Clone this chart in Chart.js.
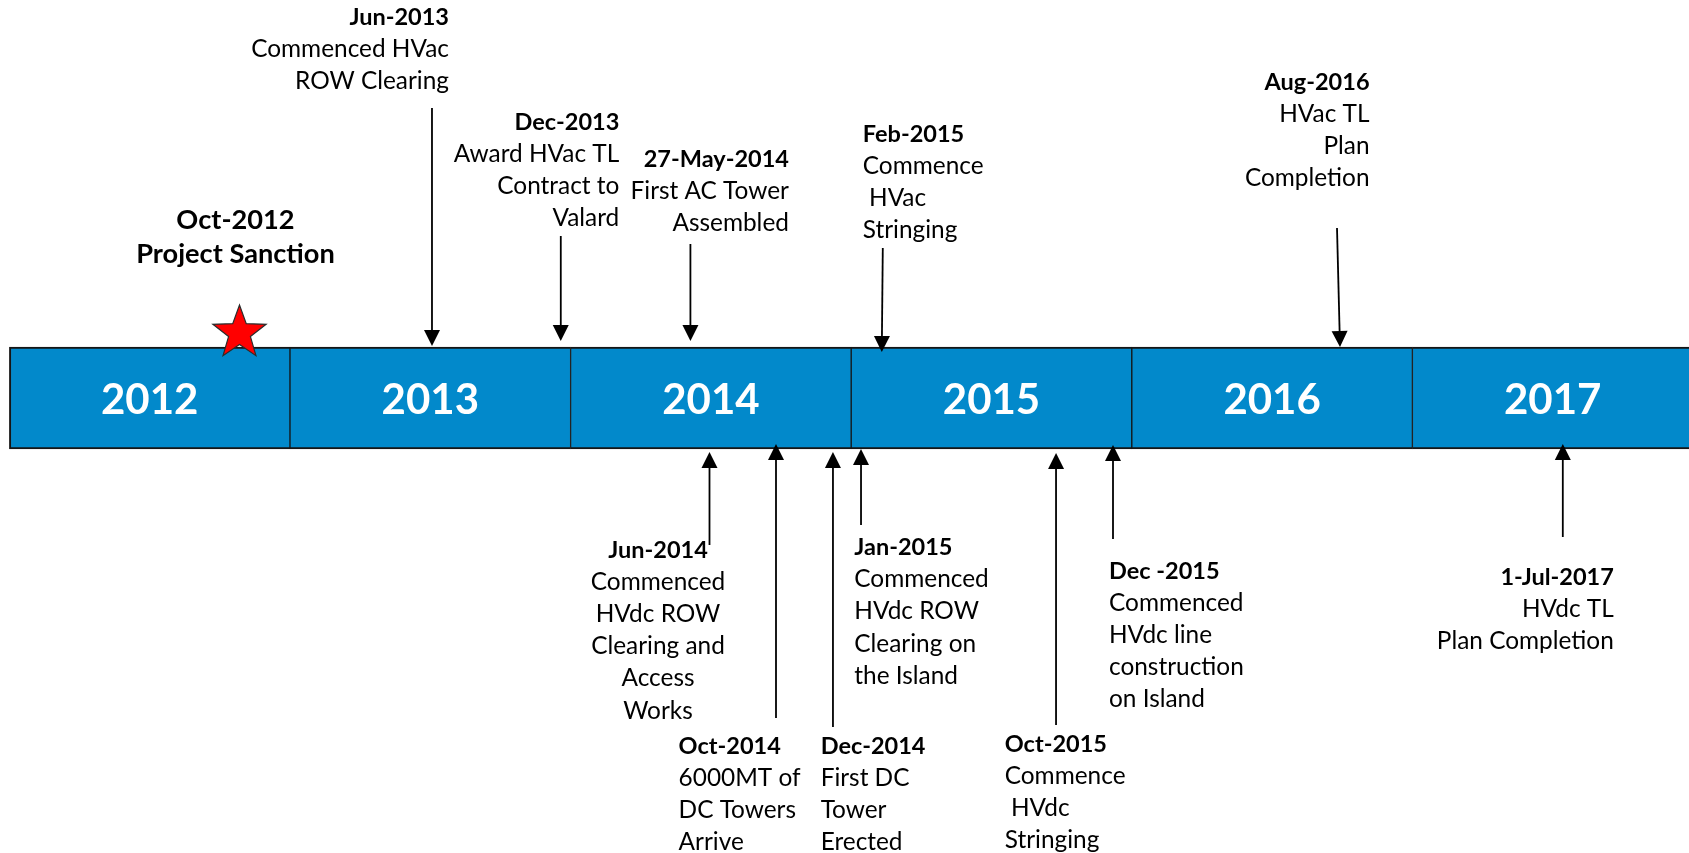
<!DOCTYPE html>
<html>
<head>
<meta charset="utf-8">
<script src="https://cdn.jsdelivr.net/npm/chart.js@4.4.0/dist/chart.umd.min.js"></script>
<style>
  html, body { margin: 0; padding: 0; background: #ffffff; }
  #wrap { width: 1689px; height: 853px; position: relative; }
</style>
</head>
<body>
<div id="wrap"><canvas id="timeline"></canvas></div>
<script>
// years shown on the blue bar
const years = [2012, 2013, 2014, 2015, 2016, 2017];

// project sanction (star)
const sanctionDate = 2012.82;
const sanctionText = ['Oct-2012', 'Project Sanction'];

// milestones, date = decimal year where the arrow meets the bar
const eventDates = [2013.506, 2013.965, 2014.427, 2015.109, 2016.742,
                    2014.495, 2014.732, 2014.935, 2015.035, 2015.730, 2015.933, 2017.536];
const eventTitles = ['Jun-2013', 'Dec-2013', '27-May-2014', 'Feb-2015', 'Aug-2016',
                     'Jun-2014', 'Oct-2014', 'Dec-2014', 'Jan-2015', 'Oct-2015', 'Dec -2015', '1-Jul-2017'];
const eventTexts = [
  ['Commenced HVac', 'ROW Clearing'],
  ['Award HVac TL', 'Contract to', 'Valard'],
  ['First AC Tower', 'Assembled'],
  ['Commence', ' HVac', 'Stringing'],
  ['HVac TL', 'Plan', 'Completion'],
  ['Commenced', 'HVdc ROW', 'Clearing and', 'Access', 'Works'],
  ['6000MT of', 'DC Towers', 'Arrive'],
  ['First DC', 'Tower', 'Erected'],
  ['Commenced', 'HVdc ROW', 'Clearing on', 'the Island'],
  ['Commence', ' HVdc', 'Stringing'],
  ['Commenced', 'HVdc line', 'construction', 'on Island'],
  ['HVdc TL', 'Plan Completion']
];

// where each callout sits (y in page pixels via the reversed y scale)
// tail/tip = arrow ends, dx = text anchor offset from arrow, base = first baseline
const callouts = [
  { tail: 108, tip: 346, tailDx: 0,  dx: 17,    align: 'right',  base: 25 },
  { tail: 236, tip: 341, tailDx: 0,  dx: 58.5,  align: 'right',  base: 129.5 },
  { tail: 244, tip: 341, tailDx: 0,  dx: 98.5,  align: 'right',  base: 166.5 },
  { tail: 248, tip: 352, tailDx: 1,  dx: -19,   align: 'left',   base: 141.5 },
  { tail: 228, tip: 347, tailDx: -3, dx: 29.5,  align: 'right',  base: 89.5 },
  { tail: 545, tip: 452, tailDx: 0,  dx: -51.5, align: 'center', base: 557.5 },
  { tail: 718, tip: 444, tailDx: 0,  dx: -97.4, align: 'left',   base: 753.5 },
  { tail: 727, tip: 452, tailDx: 0,  dx: -12.3, align: 'left',   base: 753.5 },
  { tail: 525, tip: 449, tailDx: 0,  dx: -6.7,  align: 'left',   base: 555 },
  { tail: 725, tip: 453, tailDx: 0,  dx: -51.3, align: 'left',   base: 751.5 },
  { tail: 539, tip: 445, tailDx: 0,  dx: -4,    align: 'left',   base: 578.5 },
  { tail: 537, tip: 444, tailDx: 0,  dx: 51,    align: 'right',  base: 584.5 }
];

const FONT = 'Lato, "Open Sans", sans-serif';
const barColor = '#0289CB';
const barTop = 347, barBottom = 449;
const lineGap = 32.2;

function drawStar(ctx, cx, cy, R, r) {
  ctx.beginPath();
  for (let i = 0; i < 10; i++) {
    const rad = i % 2 === 0 ? R : r;
    const a = -Math.PI / 2 + i * Math.PI / 5;
    const px = cx + Math.cos(a) * rad, py = cy + Math.sin(a) * rad;
    if (i === 0) ctx.moveTo(px, py); else ctx.lineTo(px, py);
  }
  ctx.closePath();
  ctx.fillStyle = '#FF0000';
  ctx.fill();
  ctx.lineWidth = 1.2;
  ctx.strokeStyle = '#2b2b2b';
  ctx.stroke();
}

function drawArrow(ctx, x1, y1, x2, y2) {
  const head = 16, half = 8;
  const ang = Math.atan2(y2 - y1, x2 - x1);
  const bx = x2 - Math.cos(ang) * head, by = y2 - Math.sin(ang) * head;
  ctx.strokeStyle = '#000';
  ctx.lineWidth = 1.8;
  ctx.beginPath();
  ctx.moveTo(x1, y1);
  ctx.lineTo(bx, by);
  ctx.stroke();
  ctx.fillStyle = '#000';
  ctx.beginPath();
  ctx.moveTo(x2, y2);
  ctx.lineTo(bx + Math.sin(ang) * half, by - Math.cos(ang) * half);
  ctx.lineTo(bx - Math.sin(ang) * half, by + Math.cos(ang) * half);
  ctx.closePath();
  ctx.fill();
}

const timelinePlugin = {
  id: 'timeline',
  afterDatasetsDraw(chart) {
    const ctx = chart.ctx;
    const xs = chart.scales.x, ys = chart.scales.y;
    ctx.save();

    // year labels inside the bar
    ctx.fillStyle = '#ffffff';
    ctx.font = 'bold 42px ' + FONT;
    ctx.textAlign = 'center';
    ctx.textBaseline = 'alphabetic';
    years.forEach(y => {
      ctx.fillText(String(y), xs.getPixelForValue(y + 0.5), ys.getPixelForValue(413.5));
    });

    // arrows + callout text
    eventDates.forEach((d, i) => {
      const c = callouts[i];
      const tipX = xs.getPixelForValue(d);
      drawArrow(ctx, tipX + c.tailDx, ys.getPixelForValue(c.tail), tipX, ys.getPixelForValue(c.tip));
      ctx.fillStyle = '#000';
      ctx.textAlign = c.align;
      const tx = tipX + c.dx;
      let y = ys.getPixelForValue(c.base);
      ctx.font = 'bold 23.5px ' + FONT;
      ctx.fillText(eventTitles[i], tx, y);
      ctx.font = '24.4px ' + FONT;
      eventTexts[i].forEach(t => {
        y += lineGap;
        ctx.fillText(t, tx, y);
      });
    });

    // project sanction
    const sx = xs.getPixelForValue(sanctionDate);
    drawStar(ctx, sx, ys.getPixelForValue(333), 28, 11.5);
    ctx.fillStyle = '#000';
    ctx.textAlign = 'center';
    ctx.font = 'bold 27.2px ' + FONT;
    ctx.fillText(sanctionText[0], sx - 4, ys.getPixelForValue(228.5));
    ctx.fillText(sanctionText[1], sx - 4, ys.getPixelForValue(262.5));

    ctx.restore();
  }
};

// x scale: 2012.0 sits at 9.4px, one year = 280.6px
const pxPerYear = 280.6, x0 = 9.4, pageW = 1689, pageH = 853;

new Chart(document.getElementById('timeline'), {
  type: 'bar',
  data: {
    datasets: [{
      data: years.map(y => ({ x: [y, y + 1], y: (barTop + barBottom) / 2 })),
      backgroundColor: barColor,
      borderColor: '#151515',
      borderWidth: c => ({ top: 2, bottom: 2, left: c.dataIndex === 0 ? 2 : 1, right: 1 }),
      borderSkipped: false,
      barThickness: barBottom - barTop,
      grouped: false
    }]
  },
  options: {
    indexAxis: 'y',
    responsive: true,
    maintainAspectRatio: false,
    animation: false,
    layout: { padding: 0 },
    plugins: { legend: { display: false }, tooltip: { enabled: false } },
    scales: {
      x: { type: 'linear', offset: false, min: 2012 - x0 / pxPerYear, max: 2012 + (pageW - x0) / pxPerYear, display: false },
      y: { type: 'linear', offset: false, min: 0, max: pageH, reverse: true, display: false }
    }
  },
  plugins: [timelinePlugin]
});
</script>
</body>
</html>
